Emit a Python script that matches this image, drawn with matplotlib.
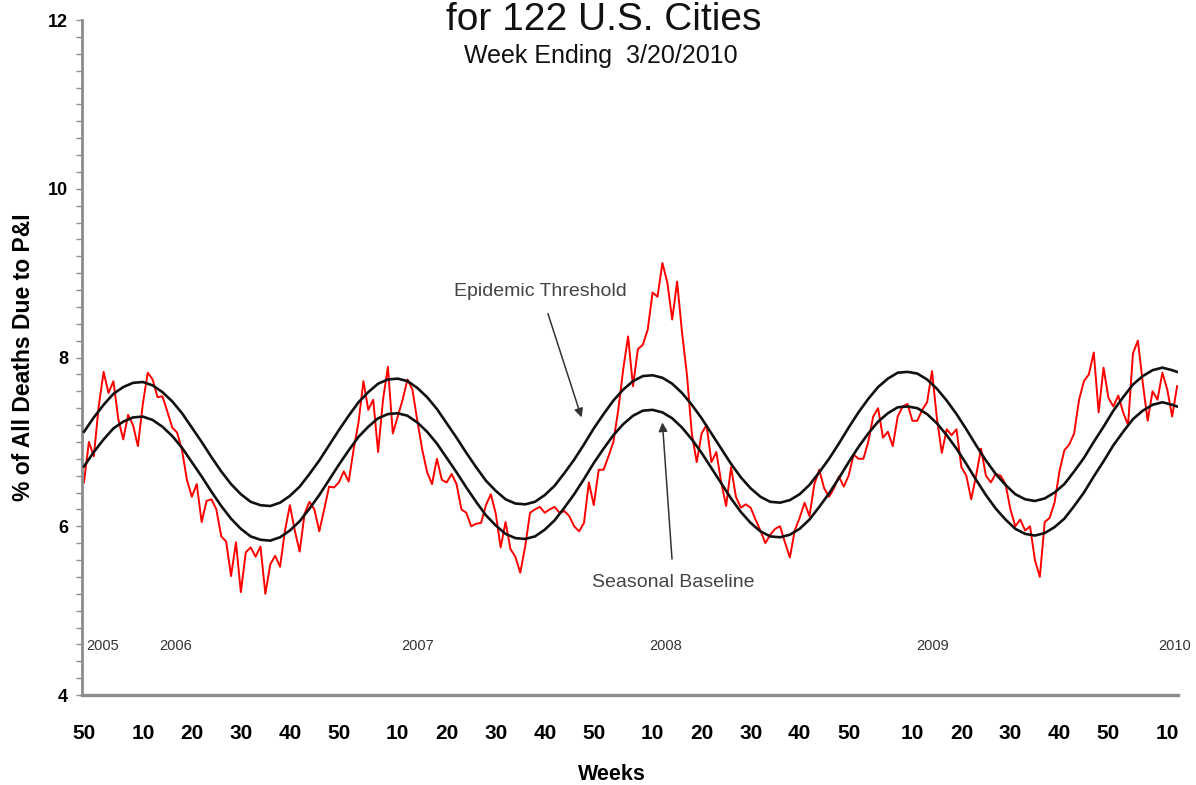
import matplotlib
matplotlib.use("Agg")
import matplotlib.pyplot as plt
import numpy as np
from matplotlib.ticker import MultipleLocator

plt.rcParams['font.family'] = ['Liberation Sans', 'DejaVu Sans']

# weekly % of deaths due to P&I, week 50/2005 .. week 11/2010
pi_pct = [
    6.52, 7.00, 6.83, 7.42, 7.83, 7.58, 7.72, 7.27, 7.03, 7.32, 7.20, 6.95,
    7.45, 7.82, 7.74, 7.53, 7.54, 7.36, 7.17, 7.11, 6.90, 6.55, 6.35, 6.50,
    6.05, 6.30, 6.32, 6.20, 5.88, 5.82, 5.41, 5.81, 5.22, 5.69, 5.75, 5.64,
    5.76, 5.20, 5.55, 5.65, 5.52, 5.95, 6.25, 5.95, 5.70, 6.15, 6.29, 6.20,
    5.94, 6.20, 6.47, 6.46, 6.52, 6.65, 6.53, 6.91, 7.23, 7.72, 7.38, 7.50,
    6.88, 7.50, 7.89, 7.10, 7.30, 7.50, 7.74, 7.62, 7.25, 6.91, 6.64, 6.50,
    6.80, 6.55, 6.52, 6.62, 6.50, 6.20, 6.16, 6.00, 6.03, 6.04, 6.25, 6.38,
    6.15, 5.75, 6.05, 5.73, 5.64, 5.45, 5.76, 6.16, 6.20, 6.23, 6.16, 6.20,
    6.23, 6.16, 6.18, 6.12, 6.00, 5.94, 6.04, 6.52, 6.25, 6.67, 6.67, 6.83,
    7.00, 7.38, 7.86, 8.25, 7.66, 8.10, 8.15, 8.33, 8.77, 8.72, 9.12, 8.89,
    8.45, 8.90, 8.30, 7.80, 7.10, 6.76, 7.10, 7.20, 6.76, 6.88, 6.52, 6.24,
    6.70, 6.35, 6.22, 6.26, 6.22, 6.08, 5.95, 5.80, 5.90, 5.97, 6.00, 5.81,
    5.63, 5.95, 6.10, 6.28, 6.12, 6.50, 6.67, 6.45, 6.35, 6.45, 6.59, 6.47,
    6.60, 6.85, 6.80, 6.80, 7.00, 7.30, 7.40, 7.05, 7.12, 6.95, 7.30, 7.42,
    7.45, 7.25, 7.25, 7.38, 7.47, 7.84, 7.28, 6.87, 7.15, 7.08, 7.15, 6.70,
    6.60, 6.32, 6.60, 6.92, 6.60, 6.52, 6.62, 6.60, 6.50, 6.20, 6.00, 6.08,
    5.95, 6.00, 5.60, 5.40, 6.05, 6.10, 6.28, 6.65, 6.90, 6.97, 7.10, 7.50,
    7.72, 7.80, 8.06, 7.35, 7.88, 7.52, 7.42, 7.55, 7.35, 7.20, 8.05, 8.20,
    7.70, 7.25, 7.60, 7.50, 7.82, 7.62, 7.30, 7.66,
]
weeks = np.arange(len(pi_pct))

# seasonal baseline and epidemic threshold, read every second week
curve_weeks = np.r_[np.arange(0, 223, 2), 223]
baseline = [
    6.71, 6.88, 7.03, 7.16, 7.24, 7.29, 7.30, 7.26, 7.18, 7.07,
    6.93, 6.76, 6.59, 6.41, 6.24, 6.09, 5.97, 5.88, 5.84, 5.83,
    5.87, 5.95, 6.06, 6.21, 6.37, 6.55, 6.73, 6.90, 7.06, 7.18,
    7.28, 7.33, 7.34, 7.31, 7.23, 7.12, 6.98, 6.81, 6.64, 6.46,
    6.29, 6.13, 6.01, 5.91, 5.86, 5.85, 5.88, 5.96, 6.07, 6.22,
    6.38, 6.56, 6.75, 6.92, 7.08, 7.21, 7.31, 7.37, 7.38, 7.35,
    7.28, 7.17, 7.03, 6.87, 6.69, 6.51, 6.33, 6.17, 6.04, 5.94,
    5.88, 5.87, 5.90, 5.97, 6.08, 6.23, 6.39, 6.57, 6.76, 6.94,
    7.10, 7.24, 7.34, 7.41, 7.42, 7.40, 7.33, 7.22, 7.08, 6.92,
    6.74, 6.55, 6.37, 6.21, 6.08, 5.97, 5.91, 5.89, 5.92, 5.99,
    6.09, 6.24, 6.40, 6.59, 6.77, 6.96, 7.12, 7.27, 7.37, 7.44,
    7.47, 7.44, 7.42,
]
threshold = [
    7.12, 7.29, 7.44, 7.57, 7.65, 7.70, 7.71, 7.67, 7.59, 7.48,
    7.34, 7.17, 7.00, 6.82, 6.65, 6.50, 6.38, 6.29, 6.25, 6.24,
    6.28, 6.36, 6.47, 6.62, 6.78, 6.96, 7.14, 7.31, 7.47, 7.59,
    7.69, 7.74, 7.75, 7.72, 7.64, 7.53, 7.39, 7.22, 7.05, 6.87,
    6.70, 6.54, 6.42, 6.32, 6.27, 6.26, 6.29, 6.37, 6.48, 6.63,
    6.79, 6.97, 7.16, 7.33, 7.49, 7.62, 7.72, 7.78, 7.79, 7.76,
    7.69, 7.58, 7.44, 7.28, 7.10, 6.92, 6.74, 6.58, 6.45, 6.35,
    6.29, 6.28, 6.31, 6.38, 6.49, 6.64, 6.80, 6.98, 7.17, 7.35,
    7.51, 7.65, 7.75, 7.82, 7.83, 7.81, 7.74, 7.63, 7.49, 7.33,
    7.15, 6.96, 6.78, 6.62, 6.49, 6.38, 6.32, 6.30, 6.33, 6.40,
    6.50, 6.65, 6.81, 7.00, 7.18, 7.37, 7.53, 7.68, 7.78, 7.85,
    7.88, 7.85, 7.83,
]

tick_weeks = [0, 12, 22, 32, 42, 52, 64, 74, 84, 94, 104,
              116, 126, 136, 146, 156, 169, 179, 189, 199, 209, 221]
tick_labels = ['50', '10', '20', '30', '40', '50', '10', '20', '30', '40', '50',
               '10', '20', '30', '40', '50', '10', '20', '30', '40', '50', '10']
year_labels = ['2005', '2006', '2007', '2008', '2009', '2010']
year_weeks = [3.9, 18.6, 68.0, 118.7, 173.1, 222.5]

fig = plt.figure(figsize=(11.96, 7.85), dpi=100)
ax = fig.add_axes([0.0686, 0.1146, 0.9164, 0.8599])

ax.plot(weeks, pi_pct, color='#ff0000', lw=1.4, zorder=2)
ax.plot(curve_weeks, threshold, color='#111111', lw=1.9, zorder=3)
ax.plot(curve_weeks, baseline, color='#111111', lw=1.9, zorder=3)

ax.set_xlim(-0.4, 223.2)
ax.set_ylim(4, 12)

ax.spines['top'].set_visible(False)
ax.spines['right'].set_visible(False)
ax.spines['left'].set_color('#8c8c8c')
ax.spines['left'].set_linewidth(2)
ax.spines['bottom'].set_color('#8c8c8c')
ax.spines['bottom'].set_linewidth(2.4)

ax.yaxis.set_major_locator(MultipleLocator(2))
ax.yaxis.set_minor_locator(MultipleLocator(0.2))
ax.tick_params(axis='y', which='both', length=4, width=1, color='#8c8c8c',
               direction='out')
ax.tick_params(axis='y', which='major', labelsize=13, pad=6)
for lab in ax.get_yticklabels():
    lab.set_fontweight('bold')

ax.set_xticks(tick_weeks)
ax.set_xticklabels(tick_labels, fontsize=15, fontweight='bold')
ax.tick_params(axis='x', length=0, pad=21)

for yr, wk in zip(year_labels, year_weeks):
    ax.text(wk, 4.58, yr, ha='center', va='center', fontsize=10.5,
            color='#333333', clip_on=False)

ax.annotate('Epidemic Threshold', xy=(101.5, 7.29), xytext=(93.2, 8.78),
            ha='center', va='center', fontsize=14, color='#444444',
            arrowprops=dict(arrowstyle='-|>', color='#333333', lw=1.1,
                            mutation_scale=13, shrinkA=8, shrinkB=0))
ax.annotate('Seasonal Baseline', xy=(118.0, 7.23), xytext=(120.3, 5.33),
            ha='center', va='center', fontsize=14, color='#444444',
            arrowprops=dict(arrowstyle='-|>', color='#333333', lw=1.1,
                            mutation_scale=13, shrinkA=9, shrinkB=0))

fig.text(604 / 1196, 1 - 30 / 785, 'for 122 U.S. Cities', ha='center',
         va='baseline', fontsize=28, color='#111111')
fig.text(601 / 1196, 1 - 63 / 785, 'Week Ending  3/20/2010', ha='center',
         va='baseline', fontsize=18, color='#111111')
fig.text(24 / 1196, 1 - 357 / 785, '% of All Deaths Due to P&I', rotation=90,
         ha='center', va='center', fontsize=16.5, fontweight='bold')
fig.text(612 / 1196, 1 - 775 / 785, 'Weeks', ha='center', va='center',
         fontsize=15.5, fontweight='bold')

fig.savefig('out.png', dpi=100)
